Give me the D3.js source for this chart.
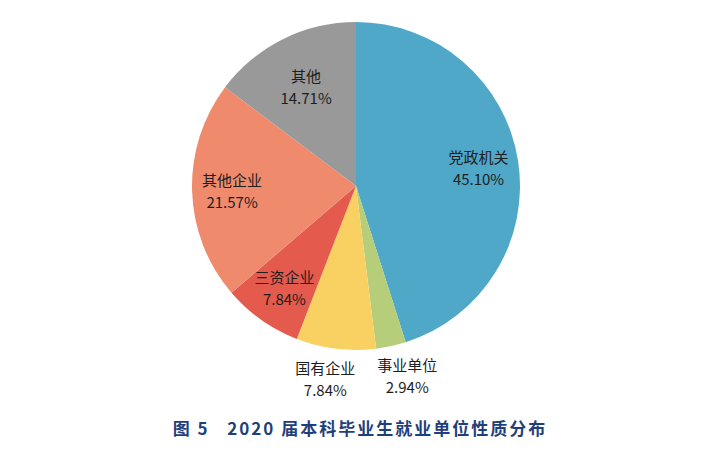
<!DOCTYPE html>
<html>
<head>
<meta charset="utf-8">
<script src="https://cdn.jsdelivr.net/npm/d3@7"></script>
<style>
  body { margin: 0; background: #fff; }
  svg { display: block; }
</style>
</head>
<body>
<div id="chart"></div>
<script>
(function () {
  var width = 719,
    height = 465;

  // data, clockwise from 12 o'clock
  var categories = ["党政机关", "事业单位", "国有企业", "三资企业", "其他企业", "其他"];
  var shares = [45.10, 2.94, 7.84, 7.84, 21.57, 14.71];
  var colors = ["#4fa8c8", "#b6cd79", "#f9d163", "#e45a4c", "#ef8a6d", "#999999"];
  var title = "图 5   2020 届本科毕业生就业单位性质分布";

  // labels that sit below the pie instead of on the slice
  var outside = ["事业单位", "国有企业"];

  var cx = 356,
    cy = 186,
    radius = 164;

  var svg = d3.select("#chart")
    .append("svg")
    .attr("width", width)
    .attr("height", height);

  var g = svg.append("g")
    .attr("transform", "translate(" + cx + "," + cy + ")");

  var rows = categories.map(function (c, i) {
    return { name: c, value: shares[i], color: colors[i] };
  });

  var pie = d3.pie()
    .sort(null)
    .value(function (d) { return d.value; });

  var arc = d3.arc().innerRadius(0).outerRadius(radius);
  var arcs = pie(rows);

  g.selectAll(".slice")
    .data(arcs)
    .enter().append("path")
    .attr("class", "slice")
    .attr("d", arc)
    .attr("fill", function (d) { return d.data.color; });

  function labelPos(d) {
    var a = (d.startAngle + d.endAngle) / 2;
    var r;
    if (outside.indexOf(d.data.name) >= 0) {
      r = 193;
    } else if (d.data.name === "其他") {
      r = 112;
    } else {
      r = 124;
    }
    var x = Math.sin(a) * r,
      y = -Math.cos(a) * r;
    if (d.data.name === "事业单位") x += 10;
    if (d.data.name === "国有企业") x -= 7;
    return [x, y];
  }

  var labels = g.selectAll(".pie-label")
    .data(arcs)
    .enter().append("text")
    .attr("class", "pie-label")
    .attr("text-anchor", "middle")
    .attr("fill", "#1e1e1e")
    .attr("font-family", "'Noto Sans CJK SC', 'Noto Sans', sans-serif")
    .attr("font-size", "15px")
    .attr("transform", function (d) {
      var p = labelPos(d);
      return "translate(" + p[0] + "," + p[1] + ")";
    });

  labels.append("tspan")
    .attr("x", 0)
    .attr("y", -4)
    .text(function (d) { return d.data.name; });

  labels.append("tspan")
    .attr("x", 0)
    .attr("y", 18)
    .text(function (d) { return d.data.value.toFixed(2) + "%"; });

  svg.append("text")
    .attr("x", 360)
    .attr("y", 435)
    .attr("text-anchor", "middle")
    .attr("fill", "#1f3f7c")
    .attr("font-family", "'Noto Sans CJK SC', sans-serif")
    .attr("font-weight", "bold")
    .attr("font-size", "17px")
    .attr("letter-spacing", "2px")
    .attr("xml:space", "preserve")
    .style("white-space", "pre")
    .text(title);
})();
</script>
</body>
</html>
